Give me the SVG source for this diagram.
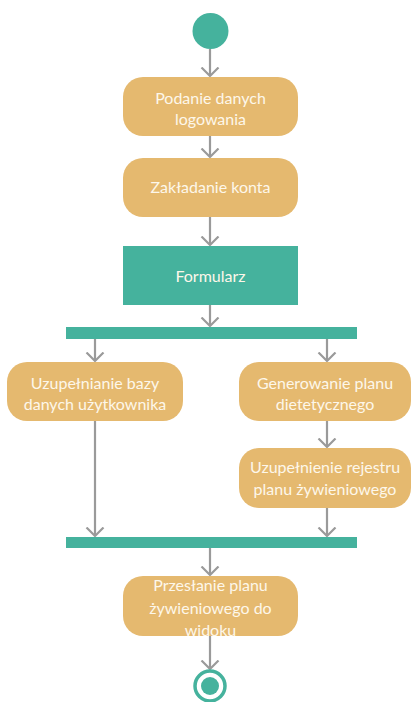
<svg xmlns="http://www.w3.org/2000/svg" width="412" height="702" viewBox="0 0 412 702">
  <defs>
    <marker id="arrow" viewBox="0 0 11 20" refX="9.5" refY="10" markerWidth="11" markerHeight="20" markerUnits="userSpaceOnUse" orient="auto">
      <path d="M1 1.5 L9.5 10 L1 18.5" fill="none" stroke="#9a9a9a" stroke-width="2.2"/>
    </marker>
    <style>
      .action { fill: #e5b96f; }
      .teal { fill: #45b29d; }
      .label { font-family: Lato, "Open Sans", sans-serif; font-size: 16px; fill: #fdf7ea; text-anchor: middle; dominant-baseline: central; }
      .flow { stroke: #9a9a9a; stroke-width: 2.2; fill: none; marker-end: url(#arrow); }
    </style>
  </defs>
  <rect width="412" height="702" fill="#ffffff"/>

  <g id="connectors">
    <line class="flow" x1="210" y1="49" x2="210" y2="76"/>
    <line class="flow" x1="210" y1="136" x2="210" y2="157"/>
    <line class="flow" x1="210" y1="217" x2="210" y2="245"/>
    <line class="flow" x1="210" y1="305" x2="210" y2="326"/>
    <line class="flow" x1="95" y1="339" x2="95" y2="361"/>
    <line class="flow" x1="327" y1="339" x2="327" y2="361"/>
    <line class="flow" x1="327" y1="421" x2="327" y2="447"/>
    <line class="flow" x1="95" y1="421" x2="95" y2="536"/>
    <line class="flow" x1="327" y1="508" x2="327" y2="536"/>
    <line class="flow" x1="210" y1="548" x2="210" y2="575"/>
    <line class="flow" x1="210" y1="636" x2="210" y2="669"/>
  </g>

  <g id="start">
    <circle class="teal" cx="210.5" cy="31" r="18"/>
  </g>

  <g id="podanie-danych">
    <rect class="action" x="123" y="77" width="175" height="59" rx="20"/>
    <text class="label" x="210.5" y="97">Podanie danych</text>
    <text class="label" x="210.5" y="118">logowania</text>
  </g>

  <g id="zakladanie-konta">
    <rect class="action" x="123" y="158" width="175" height="59" rx="20"/>
    <text class="label" x="210.5" y="186">Zakładanie konta</text>
  </g>

  <g id="formularz">
    <rect class="teal" x="123" y="246" width="175" height="59"/>
    <text class="label" x="210.5" y="275">Formularz</text>
  </g>

  <g id="fork">
    <rect class="teal" x="66" y="327" width="291" height="12"/>
  </g>

  <g id="uzupelnianie-bazy">
    <rect class="action" x="7" y="362" width="176" height="59" rx="20"/>
    <text class="label" x="95" y="382">Uzupełnianie bazy</text>
    <text class="label" x="95" y="403">danych użytkownika</text>
  </g>

  <g id="generowanie-planu">
    <rect class="action" x="239" y="362" width="172" height="59" rx="20"/>
    <text class="label" x="325" y="382">Generowanie planu</text>
    <text class="label" x="325" y="403">dietetycznego</text>
  </g>

  <g id="uzupelnienie-rejestru">
    <rect class="action" x="239" y="448" width="172" height="60" rx="20"/>
    <text class="label" x="325" y="466">Uzupełnienie rejestru</text>
    <text class="label" x="325" y="488">planu żywieniowego</text>
  </g>

  <g id="join">
    <rect class="teal" x="66" y="537" width="291" height="11"/>
  </g>

  <g id="przeslanie-planu">
    <rect class="action" x="123" y="576" width="175" height="60" rx="20"/>
    <text class="label" x="210.5" y="584">Przesłanie planu</text>
    <text class="label" x="210.5" y="607">żywieniowego do</text>
    <text class="label" x="210.5" y="629">widoku</text>
  </g>

  <g id="end">
    <circle cx="210" cy="686" r="15" fill="#ffffff" stroke="#45b29d" stroke-width="3.5"/>
    <circle class="teal" cx="210" cy="686" r="9"/>
  </g>
</svg>
